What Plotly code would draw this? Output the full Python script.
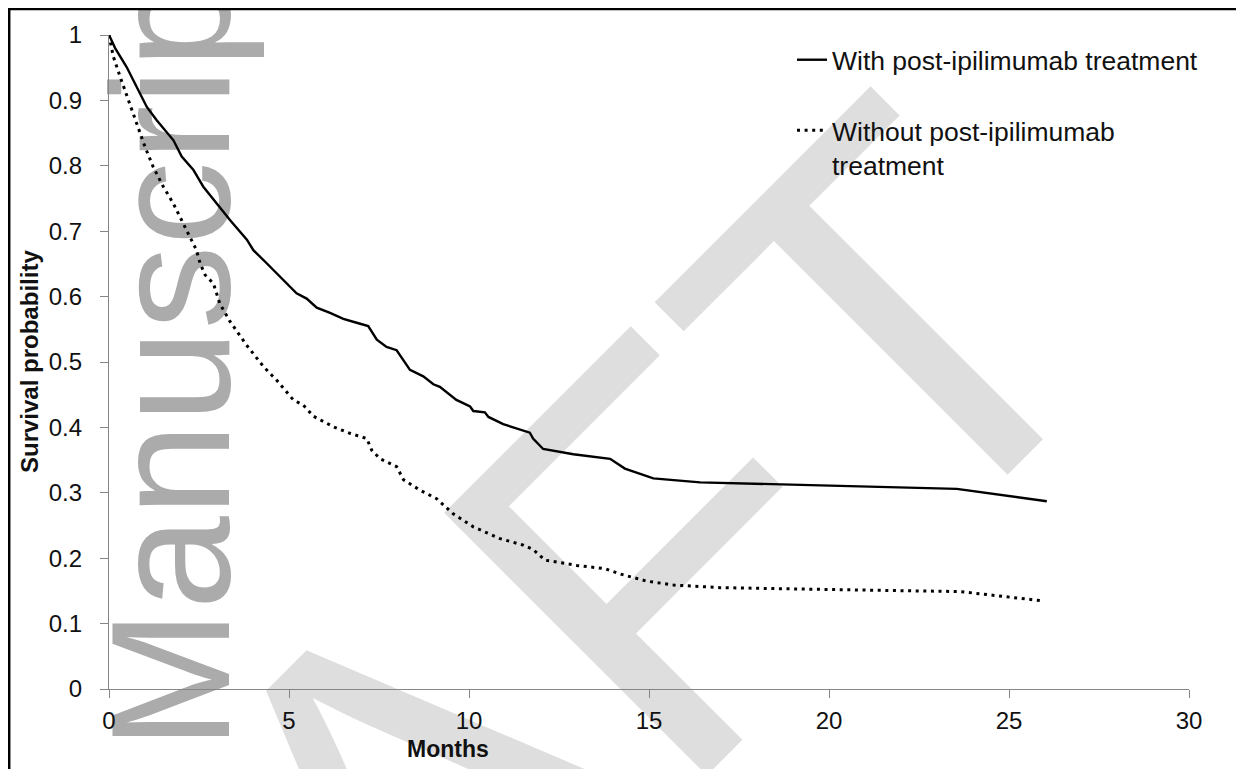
import plotly.graph_objects as go

# Survival with post-ipilimumab treatment
months_with = [0, 0.17, 0.49, 0.77, 1.05, 1.32, 1.6, 1.79, 2.02, 2.34, 2.62, 2.99, 3.36, 3.83,
               4.01, 4.38, 4.84, 5.21, 5.49, 5.77, 6.14, 6.51, 6.88, 7.2, 7.44, 7.71, 7.99,
               8.36, 8.73, 9.01, 9.19, 9.65, 10.03, 10.12, 10.44, 10.54, 10.95, 11.32, 11.69,
               11.78, 12.06, 12.9, 13.92, 14.33, 14.75, 15.12, 16.42, 23.55, 26.05]
surv_with = [1.0, 0.98, 0.951, 0.921, 0.89, 0.87, 0.852, 0.839, 0.814, 0.794, 0.768, 0.742, 0.717, 0.687,
             0.671, 0.651, 0.625, 0.605, 0.597, 0.583, 0.575, 0.566, 0.56, 0.555, 0.534, 0.523, 0.518,
             0.488, 0.478, 0.466, 0.462, 0.442, 0.432, 0.425, 0.423, 0.416, 0.405, 0.398, 0.392,
             0.383, 0.367, 0.359, 0.352, 0.337, 0.329, 0.322, 0.316, 0.306, 0.287]

# Survival without post-ipilimumab treatment
months_without = [0, 0.12, 0.31, 0.54, 0.77, 1.0, 1.23, 1.51, 1.79, 2.02, 2.34, 2.43, 2.53, 2.67, 2.9,
                  3.08, 3.36, 3.82, 4.29, 4.66, 5.12, 5.4, 5.68, 6.23, 6.69, 7.16, 7.3, 7.53, 7.99,
                  8.18, 8.64, 9.1, 9.56, 10.12, 10.86, 11.51, 11.79, 12.11, 12.99, 13.78, 14.19,
                  14.93, 15.68, 16.97, 21.23, 23.64, 25.9]
surv_without = [1.0, 0.967, 0.936, 0.901, 0.865, 0.829, 0.798, 0.768, 0.742, 0.717, 0.681, 0.671, 0.651,
                0.633, 0.62, 0.589, 0.562, 0.526, 0.493, 0.472, 0.442, 0.434, 0.417, 0.401, 0.391,
                0.383, 0.365, 0.352, 0.34, 0.32, 0.304, 0.291, 0.268, 0.248, 0.23, 0.22, 0.213, 0.197,
                0.189, 0.184, 0.176, 0.165, 0.159, 0.155, 0.151, 0.149, 0.135]

series_names = ["With post-ipilimumab treatment", "Without post-ipilimumab<br>treatment"]
x_ticks = [0, 5, 10, 15, 20, 25, 30]
y_ticks = [0, 0.1, 0.2, 0.3, 0.4, 0.5, 0.6, 0.7, 0.8, 0.9, 1]
y_tick_text = ["0", "0.1", "0.2", "0.3", "0.4", "0.5", "0.6", "0.7", "0.8", "0.9", "1"]

FONT = "Arial, Liberation Sans, sans-serif"
# page body has an 8px margin, so the figure is drawn at (8, 8) in the window
OFF = 8
W, H = 1244 - OFF, 769 - OFF
PX0, PX1, PY1, PY0 = 109, 1189, 35, 689   # plot area in window pixels
L, T = PX0 - OFF, PY1 - OFF
PW, PH = PX1 - PX0, PY0 - PY1
R, B = W - L - PW, H - T - PH


def px(xs):
    return (xs - PX0) / PW


def py(ys):
    return (PY0 - ys) / PH


fig = go.Figure()
fig.add_trace(go.Scatter(x=months_with, y=surv_with, mode="lines", name=series_names[0],
                         legendgroup="a", line=dict(color="black", width=2.4)))
fig.add_trace(go.Scatter(x=months_without, y=surv_without, mode="lines", name=series_names[1],
                         legendgroup="b", line=dict(color="black", width=3, dash="3px,4.6px")))

shapes = []
# watermark "Manuscript"
shapes.append(dict(type="rect", xref="paper", yref="paper", layer="below",
                   x0=px(153), x1=px(157), y0=py(341), y1=py(337),
                   line=dict(width=0), fillcolor="rgba(0,0,0,0)",
                   label=dict(text="Manuscript", textangle=-90, textposition="middle center",
                              font=dict(family=FONT, size=168, color="#ababab"))))
# watermark "DRAFT"
shapes.append(dict(type="rect", xref="paper", yref="paper", layer="below",
                   x0=px(335), x1=px(339), y0=py(810), y1=py(806),
                   line=dict(width=0), fillcolor="rgba(0,0,0,0)",
                   label=dict(text="DRAFT", textangle=-45, textposition="middle center",
                              font=dict(family=FONT, size=540, color="#dedede"))))
# frame lines
shapes.append(dict(type="line", xref="paper", yref="paper", layer="above",
                   x0=px(8), x1=px(1260), y0=py(9), y1=py(9), line=dict(color="black", width=2.5)))
shapes.append(dict(type="line", xref="paper", yref="paper", layer="above",
                   x0=px(9.2), x1=px(9.2), y0=py(8), y1=py(790), line=dict(color="black", width=2.5)))

axis_common = dict(showgrid=False, zeroline=False, showline=True, linecolor="#868686", linewidth=1.3,
                   ticks="outside", ticklen=8, tickcolor="#868686", tickwidth=1.3,
                   tickfont=dict(family=FONT, size=24, color="#111111"))

fig.update_layout(
    width=W, height=H,
    margin=dict(l=L, r=R, t=T, b=B, autoexpand=False),
    paper_bgcolor="white", plot_bgcolor="white",
    xaxis=dict(range=[0, 30], tickvals=x_ticks, ticklabelstandoff=2, **axis_common),
    yaxis=dict(range=[0, 1], tickvals=y_ticks, ticktext=y_tick_text, ticklabelstandoff=13, **axis_common),
    shapes=shapes,
    showlegend=True,
    legend=dict(x=px(792), y=py(36), xanchor="left", yanchor="top", bgcolor="rgba(0,0,0,0)",
                font=dict(family=FONT, size=26.5, color="#111111"), valign="top",
                tracegroupgap=33, itemwidth=30),
    annotations=[
        dict(text="<b>Months</b>", xref="paper", yref="paper", x=px(448), y=py(749),
             xanchor="center", yanchor="middle", showarrow=False,
             font=dict(family=FONT, size=23, color="#111111")),
        dict(text="<b>Survival probability</b>", xref="paper", yref="paper", x=px(29), y=0.5,
             xanchor="center", yanchor="middle", textangle=-90, showarrow=False,
             font=dict(family=FONT, size=24, color="#111111")),
    ],
)

fig.write_html("out.html")
